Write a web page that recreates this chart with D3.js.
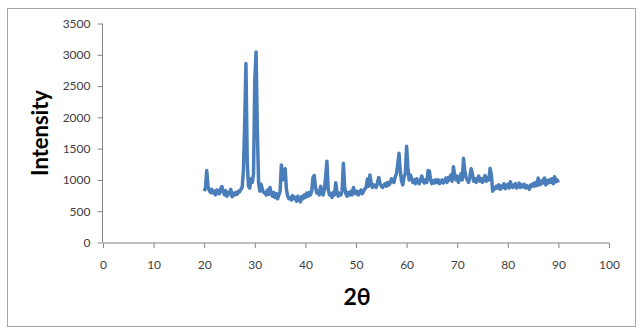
<!DOCTYPE html>
<html>
<head>
<meta charset="utf-8">
<script src="https://cdn.jsdelivr.net/npm/d3@7"></script>
<style>
  body { margin: 0; background: #fff; }
  .tickLabel { font-family: Lato, "Open Sans", sans-serif; font-size: 12px; fill: #404040; }
  .axisTitle { font-family: Lato, "Open Sans", sans-serif; font-weight: bold; fill: #000; }
</style>
</head>
<body>
<div id="xrd-chart-container"></div>
<script>

/* scan settings: first angle and step of the diffractometer */
var scanStart = 20
var scanStep = 0.25

/* intensity, one row per degree (20.00, 20.25, 20.50, 20.75 ...) */
var intensity = [
  820, 870, 1150, 900,
  830, 800, 850, 790,
  820, 760, 840, 800,
  780, 860, 895, 810,
  760, 830, 740, 800,
  780, 850, 730, 790,
  760, 800, 770, 820,
  810, 850, 880, 1150,
  1900, 2860, 1300, 900,
  870, 1020, 960, 1100,
  2600, 3045, 1800, 950,
  820, 930, 850, 800,
  790, 760, 840, 770,
  880, 780, 740, 800,
  720, 780, 700, 760,
  820, 1240, 1000, 1050,
  1180, 850, 740, 700,
  720, 680, 750, 700,
  720, 660, 740, 690,
  650, 730, 700, 760,
  720, 790, 740, 800,
  760, 820, 1040, 1070,
  880, 790, 820, 760,
  900, 800, 760, 850,
  1050, 1300, 850, 760,
  780, 720, 800, 760,
  955, 800, 740, 790,
  760, 820, 1265, 900,
  780, 740, 800, 760,
  820, 760, 880, 800,
  780, 820, 760, 800,
  840, 780, 820, 860,
  880, 1015, 900, 1080,
  950, 880, 920, 900,
  880, 960, 1040, 940,
  900, 880, 920, 940,
  900, 960, 920, 950,
  1020, 980, 960, 1050,
  1100, 1250, 1425, 1150,
  980, 920, 1050, 1100,
  1540, 1200, 1000, 1080,
  1020, 960, 1000, 940,
  1020, 970, 940, 1000,
  1060, 980, 950, 1000,
  960, 1150, 1140, 1000,
  940, 990, 950, 1000,
  960, 1000, 940, 980,
  1000, 950, 980, 1030,
  960, 1040, 1000, 1080,
  980, 1210, 1080, 1000,
  1060, 960, 1020, 1100,
  1000, 1345, 1150, 1040,
  1000, 960, 1050, 1180,
  1100, 980, 1020, 960,
  1000, 1060, 980, 1020,
  960, 1010, 1070, 980,
  1040, 1000, 1185, 1080,
  820, 880, 860, 900,
  870, 920, 850, 900,
  880, 940, 860, 900,
  930, 870, 970, 900,
  880, 920, 940, 870,
  900, 950, 880, 920,
  890, 930, 870, 910,
  880, 850, 920, 900,
  940, 900, 960, 910,
  1030, 920, 980, 940,
  1000, 1030, 920, 990,
  950, 1000, 960, 1020,
  940, 1050, 970, 1000,
  960
]

var xTicks = [0, 10, 20, 30, 40, 50, 60, 70, 80, 90, 100]
var yTicks = [0, 500, 1000, 1500, 2000, 2500, 3000, 3500]

var xrdData = intensity.map(function(d, i) {
  return { angle: scanStart + i * scanStep, counts: d }
})

/* some prep for building the chart */
var layout = {
  width: 640,
  height: 333,
  plotLeft: 103,
  plotRight: 609,
  plotTop: 23.5,
  plotBottom: 242.5,
  tickLen: 5,
  lineColor: "#4a7ebb",
  axisColor: "#868686"
}

var format = d3.format("d")

var x = d3.scaleLinear().domain([0, 100]).range([layout.plotLeft, layout.plotRight])
var y = d3.scaleLinear().domain([0, 3500]).range([layout.plotBottom, layout.plotTop])

var svg = d3.select("#xrd-chart-container")
  .append("svg")
  .attr("width", layout.width)
  .attr("height", layout.height)

/* outer chart frame */
svg.append("rect")
  .attr("x", 7.5)
  .attr("y", 8.5)
  .attr("width", 628)
  .attr("height", 318)
  .style("fill", "none")
  .style("stroke", "#a6a6a6")
  .style("stroke-width", 1)

/* axes */
var yAxis = svg.append("g")
  .attr("transform", "translate(" + (layout.plotLeft - 0.5) + ",0)")
  .call(d3.axisLeft(y).tickValues(yTicks).tickFormat(format).tickSize(layout.tickLen).tickPadding(7))

var xAxis = svg.append("g")
  .attr("transform", "translate(0," + (layout.plotBottom + 0.5) + ")")
  .call(d3.axisBottom(x).tickValues(xTicks).tickFormat(format).tickSize(layout.tickLen).tickPadding(12))

svg.selectAll(".domain").style("stroke", layout.axisColor)
svg.selectAll(".tick line").style("stroke", layout.axisColor)
svg.selectAll(".tick text").attr("class", "tickLabel")
yAxis.selectAll(".domain").attr("d", "M0," + layout.plotTop + "V" + layout.plotBottom)
xAxis.selectAll(".domain").attr("d", "M" + layout.plotLeft + ",0H" + layout.plotRight)
yAxis.attr("font-family", null).attr("font-size", null)
xAxis.attr("font-family", null).attr("font-size", null)

/* the diffraction pattern */
var line = d3.line()
  .x(function(d) { return x(d.angle) })
  .y(function(d) { return y(d.counts) })

svg.append("path")
  .datum(xrdData)
  .attr("d", line)
  .style("fill", "none")
  .style("stroke", layout.lineColor)
  .style("stroke-width", 3.5)
  .style("stroke-linejoin", "round")

/* axis titles */
svg.append("text")
  .text("Intensity")
  .attr("class", "axisTitle")
  .attr("text-anchor", "middle")
  .attr("transform", "translate(48,133) rotate(-90)")
  .style("font-size", "22px")

svg.append("text")
  .text("2θ")
  .attr("class", "axisTitle")
  .attr("text-anchor", "middle")
  .attr("x", 357)
  .attr("y", 305)
  .style("font-size", "23px")

</script>
</body>
</html>
